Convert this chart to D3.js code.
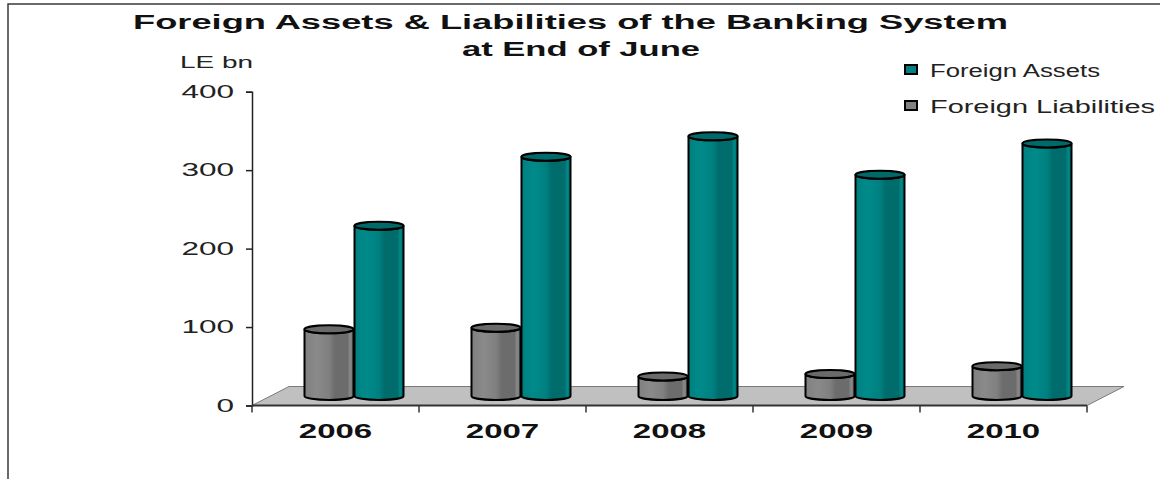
<!DOCTYPE html>
<html>
<head>
<meta charset="utf-8">
<script src="https://cdn.jsdelivr.net/npm/d3@7"></script>
<style>
  html, body { margin: 0; padding: 0; background: #fff; }
  svg { display: block; font-family: "Liberation Sans", Arial, sans-serif; }
</style>
</head>
<body>
<svg id="chart" width="1160" height="479"></svg>
<script>
// Foreign assets and liabilities of the banking system, LE bn, end of June
const years = ["2006", "2007", "2008", "2009", "2010"];
const foreignAssets = [217, 305, 331, 282, 322];
const foreignLiabilities = [85, 87, 25, 28, 38];
const yTicks = [0, 100, 200, 300, 400];
const seriesNames = ["Foreign Liabilities", "Foreign Assets"];

const svg = d3.select("#chart");
const W = 1160, H = 479;

// plot geometry
const plotLeft = 252, plotRight = 1087, plotTop = 91.7, plotBottom = 405.5;
const depthX = 37, depthY = -19;          // floor depth offset
const x = d3.scaleBand().domain(years).range([plotLeft, plotRight]);
const y = d3.scaleLinear().domain([0, 400]).range([plotBottom, plotTop]);
const inner = d3.scaleBand().domain(seriesNames).range([-50, 50]);

const colors = {
  "Foreign Assets":      { light: "#008a8a", base: "#008080", dark: "#006c6c", top: "#006a6a" },
  "Foreign Liabilities": { light: "#8a8a8a", base: "#808080", dark: "#6c6c6c", top: "#6a6a6a" }
};

// stretch text horizontally to a factor of its natural width
function stretch(sel, factor) {
  sel.each(function () {
    const w = this.getComputedTextLength();
    d3.select(this).attr("textLength", w * factor).attr("lengthAdjust", "spacingAndGlyphs");
  });
}

// frame lines
svg.append("path").attr("d", `M8,${H} L8,4 L${W},4`)
  .attr("fill", "none").attr("stroke", "#3a3a3a").attr("stroke-width", 1.5);

// gradients for cylinder shading
const defs = svg.append("defs");
Object.entries(colors).forEach(([name, c], i) => {
  const g = defs.append("linearGradient").attr("id", "cyl" + i)
    .attr("x1", "0%").attr("x2", "100%").attr("y1", "0%").attr("y2", "0%");
  [[0, c.base], [0.25, c.light], [0.5, c.base], [0.62, c.dark], [0.88, c.dark], [0.93, c.light], [1, c.dark]]
    .forEach(([o, col]) => g.append("stop").attr("offset", o).attr("stop-color", col));
  c.grad = "url(#cyl" + i + ")";
});

// floor
const y0 = y(0);
svg.append("path")
  .attr("d", `M${plotLeft},${y0} L${plotLeft + depthX},${y0 + depthY} L${plotRight + depthX},${y0 + depthY} L${plotRight},${y0} Z`)
  .attr("fill", "#c0c0c0").attr("stroke", "#7a7a7a").attr("stroke-width", 1);

// value axis
const yAxis = svg.append("g").attr("transform", `translate(${plotLeft},0)`)
  .call(d3.axisLeft(y).tickValues(yTicks).tickSize(6).tickPadding(12).tickFormat(d3.format("d")));
yAxis.select(".domain").attr("stroke", "#222").attr("stroke-width", 1.5);
yAxis.selectAll(".tick line").attr("stroke", "#222").attr("stroke-width", 1.5);
yAxis.selectAll(".tick text").attr("font-size", 18).attr("fill", "#222")
  .attr("font-family", "Liberation Sans, Arial, sans-serif").call(stretch, 1.75);

// category axis along the floor front edge
const xAxis = svg.append("g").attr("transform", `translate(0,${y0})`);
xAxis.append("line").attr("x1", plotLeft).attr("x2", plotRight).attr("stroke", "#333").attr("stroke-width", 2);
const bounds = years.map(d => x(d)).concat([plotRight]);
xAxis.selectAll("line.tk").data(bounds).join("line").attr("class", "tk")
  .attr("x1", d => d).attr("x2", d => d).attr("y1", 0).attr("y2", 7)
  .attr("stroke", "#333").attr("stroke-width", 1.5);
xAxis.selectAll("text").data(years).join("text")
  .attr("x", d => x(d) + x.bandwidth() / 2).attr("y", 32)
  .attr("text-anchor", "middle").attr("font-size", 20).attr("font-weight", "bold").attr("fill", "#111")
  .text(d => d).call(stretch, 1.65);

// cylinders
const rows = [];
years.forEach((yr, i) => {
  rows.push({ year: yr, series: "Foreign Liabilities", value: foreignLiabilities[i] });
  rows.push({ year: yr, series: "Foreign Assets", value: foreignAssets[i] });
});
const ry = 4;
function cylinder(d) {
  const cx = x(d.year) + x.bandwidth() / 2 + depthX / 2 + inner(d.series) + inner.bandwidth() / 2;
  const w = inner.bandwidth() - 1;
  const rx = w / 2, x0 = cx - rx, x1 = cx + rx;
  const yb = y(0) + depthY / 2;
  const yt = y(d.value) + depthY / 2;
  return { cx, rx, x0, x1, yb, yt };
}
const bars = svg.append("g").selectAll("g").data(rows).join("g");
bars.append("path")
  .attr("d", d => {
    const c = cylinder(d);
    return `M${c.x0},${c.yt} L${c.x0},${c.yb} A${c.rx},${ry} 0 0 0 ${c.x1},${c.yb} L${c.x1},${c.yt} A${c.rx},${ry} 0 0 1 ${c.x0},${c.yt} Z`;
  })
  .attr("fill", d => colors[d.series].grad)
  .attr("stroke", "#000").attr("stroke-width", 2).attr("stroke-linejoin", "round");
bars.append("ellipse")
  .attr("cx", d => cylinder(d).cx).attr("cy", d => cylinder(d).yt)
  .attr("rx", d => cylinder(d).rx).attr("ry", ry)
  .attr("fill", d => colors[d.series].top)
  .attr("stroke", "#000").attr("stroke-width", 2);

// titles
svg.append("text").attr("x", 133).attr("y", 29).attr("font-size", 20).attr("font-weight", "bold")
  .attr("fill", "#111").attr("textLength", 875).attr("lengthAdjust", "spacingAndGlyphs")
  .text("Foreign Assets & Liabilities of the Banking System");
svg.append("text").attr("x", 462).attr("y", 56).attr("font-size", 20).attr("font-weight", "bold")
  .attr("fill", "#111").attr("textLength", 238).attr("lengthAdjust", "spacingAndGlyphs")
  .text("at End of June");
svg.append("text").attr("x", 180).attr("y", 68).attr("font-size", 17).attr("fill", "#222")
  .attr("textLength", 73).attr("lengthAdjust", "spacingAndGlyphs").text("LE bn");

// legend
const legendItems = [
  { name: "Foreign Assets", y: 70, width: 170 },
  { name: "Foreign Liabilities", y: 106, width: 225 }
];
const lg = svg.append("g").selectAll("g").data(legendItems).join("g")
  .attr("transform", d => `translate(905,${d.y})`);
lg.append("rect").attr("x", 0).attr("y", -5).attr("width", 12).attr("height", 9)
  .attr("fill", d => colors[d.name].base).attr("stroke", "#000").attr("stroke-width", 2);
lg.append("text").attr("x", 25).attr("y", 6.5).attr("font-size", 18).attr("fill", "#222")
  .attr("textLength", d => d.width).attr("lengthAdjust", "spacingAndGlyphs")
  .text(d => d.name);
</script>
</body>
</html>
